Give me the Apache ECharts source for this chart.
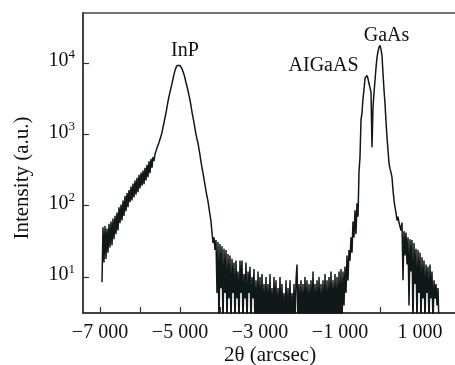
<!DOCTYPE html>
<html>
<head>
<meta charset="utf-8">
<script src="https://cdn.jsdelivr.net/npm/echarts@6/dist/echarts.min.js"></script>
<style>html,body{margin:0;padding:0;background:#fff;}#c{width:455px;height:365px;}</style>
</head>
<body>
<div id="c"></div>
<script>
// 2θ (arcsec) vs intensity (a.u.)
const inpShoulder = [[-6950,8.5],[-6925,50],[-6900,16],[-6875,52],[-6850,18],[-6825,48],[-6800,22],[-6775,56],[-6750,26],[-6725,60],[-6700,28],[-6675,66],[-6650,34],[-6625,72],[-6600,40],[-6575,80],[-6550,45],[-6525,95],[-6500,57],[-6475,104],[-6450,62],[-6425,118],[-6400,72],[-6375,136],[-6350,84],[-6325,150],[-6300,95],[-6275,165],[-6250,112],[-6225,185],[-6200,118],[-6175,205],[-6150,130],[-6125,225],[-6100,142],[-6075,245],[-6050,155],[-6025,270],[-6000,175],[-5975,290],[-5950,190],[-5925,310],[-5900,200],[-5875,340],[-5850,225],[-5825,375],[-5800,250],[-5775,420],[-5750,285],[-5725,455],[-5700,340],[-5675,480],[-5650,420],[-5625,530]];
const inpPeak = [[-5600,580],[-5575,650],[-5550,700],[-5525,770],[-5500,850],[-5475,950],[-5450,1060],[-5425,1250],[-5400,1450],[-5375,1720],[-5350,2000],[-5325,2400],[-5300,2900],[-5275,3400],[-5250,3900],[-5225,4500],[-5200,5150],[-5175,6000],[-5150,6900],[-5125,7850],[-5100,8600],[-5075,9200],[-5050,9530],[-5025,9450],[-5000,9200],[-4975,8800],[-4950,8300],[-4925,7800],[-4900,6900],[-4875,6100],[-4850,5300],[-4825,4700],[-4800,4100],[-4775,3500],[-4750,3000],[-4725,2500],[-4700,2050],[-4675,1720],[-4650,1450],[-4625,1200],[-4600,1000],[-4575,860],[-4550,750],[-4525,620],[-4500,510],[-4475,410],[-4450,340],[-4425,285],[-4400,235],[-4375,195],[-4350,160],[-4325,135],[-4300,115],[-4275,92],[-4250,75],[-4225,60]];
const substrateTail = [[-4200,42],[-4175,30],[-4150,36],[-4125,24],[-4100,33],[-4075,6],[-4050,31],[-4025,2],[-4000,29],[-3975,7],[-3950,27],[-3925,2],[-3900,25],[-3875,6],[-3850,24],[-3825,2],[-3800,21],[-3775,5],[-3750,20],[-3725,2],[-3700,18],[-3675,6],[-3650,16],[-3625,2],[-3600,17],[-3575,5],[-3550,12],[-3525,2],[-3500,17],[-3475,6],[-3450,17],[-3425,2],[-3400,11],[-3375,5],[-3350,16],[-3325,2],[-3300,12],[-3275,6],[-3250,14],[-3225,2],[-3200,10],[-3175,5],[-3150,13],[-3125,2],[-3100,9],[-3075,2],[-3050,12],[-3025,2],[-3000,10],[-2975,2],[-2950,11],[-2925,2],[-2900,8],[-2875,2],[-2850,10],[-2825,2],[-2800,8],[-2775,2],[-2750,11],[-2725,2],[-2700,7],[-2675,2],[-2650,10],[-2625,2],[-2600,9],[-2575,2],[-2550,7],[-2525,2],[-2500,10],[-2475,2],[-2450,8],[-2425,2],[-2400,6],[-2375,2],[-2350,9],[-2325,2],[-2300,7],[-2275,2],[-2250,9],[-2225,2],[-2200,6],[-2175,2],[-2150,8],[-2125,2],[-2100,9],[-2075,15],[-2050,2],[-2025,8],[-2000,2],[-1975,9],[-1950,2],[-1925,8],[-1900,2],[-1875,10],[-1850,2],[-1825,9],[-1800,2],[-1775,8],[-1750,2],[-1725,9],[-1700,2],[-1675,12],[-1650,2],[-1625,8],[-1600,2],[-1575,9],[-1550,2],[-1525,10],[-1500,2],[-1475,8],[-1450,2],[-1425,9],[-1400,2],[-1375,11],[-1350,2],[-1325,9],[-1300,2],[-1275,10],[-1250,2],[-1225,12],[-1200,2],[-1175,9],[-1150,2],[-1125,11],[-1100,2],[-1075,10],[-1050,2],[-1025,12],[-1000,2],[-975,13],[-950,2],[-925,12],[-900,4],[-875,14],[-850,6],[-825,20],[-800,9],[-775,24],[-750,17],[-725,36],[-700,22],[-675,60],[-650,36],[-625,86],[-600,40]];
const epiPeaks = [[-575,108],[-550,70],[-525,300],[-500,480],[-475,1590],[-450,2000],[-425,3190],[-400,4200],[-375,6100],[-350,6500],[-325,6680],[-300,6000],[-275,5140],[-250,4500],[-225,3860],[-200,658],[-175,2390],[-150,3800],[-125,5690],[-100,8500],[-75,11900],[-50,14500],[-25,16500],[0,17600],[25,15500],[50,12700],[75,7100],[100,4200],[125,2700],[150,1500],[175,908],[200,600],[225,393],[250,330],[275,290],[300,250],[325,165],[350,120],[375,95],[400,80],[425,62]];
const gaasTail = [[450,70],[475,58],[500,55],[525,45],[550,58],[575,9],[600,44],[625,20],[650,42],[675,15],[700,36],[725,4],[750,34],[775,12],[800,33],[825,2],[850,30],[875,8],[900,25],[925,2],[950,24],[975,6],[1000,22],[1025,2],[1050,19],[1075,5],[1100,17],[1125,2],[1150,15],[1175,6],[1200,14],[1225,2],[1250,15],[1275,5],[1300,12],[1325,2],[1350,9],[1375,5],[1400,8],[1425,4],[1450,7],[1475,2]];

const xLabelValues = [-7000, -5000, -3000, -1000, 1000];
const xTickValues = [-7000, -6000, -5000, -4000, -3000, -2000, -1000, 0, 1000];
const yTickValues = [10, 100, 1000, 10000];
const peakLabels = [['InP', -4875, 15000], ['GaAs', 163, 24300], ['AIGaAS', -1412, 9230]];

const FONT = 'Liberation Serif';
const scan = [].concat(inpShoulder, inpPeak, substrateTail, epiPeaks, gaasTail);

function fmtX(v) {
  const a = Math.abs(v);
  let s = a >= 1000 ? Math.floor(a / 1000) + ' ' + String(a % 1000).padStart(3, '0') : String(a);
  return (v < 0 ? '\u2212' : '') + s;
}

const chart = echarts.init(document.getElementById('c'), null, {renderer: 'canvas'});
chart.setOption({
  animation: false,
  backgroundColor: '#fff',
  grid: {left: 83, top: 13, right: -2, bottom: 52, show: true, borderColor: '#444', borderWidth: 1.5,
    containLabel: false, outerBoundsMode: 'none'},
  xAxis: {
    type: 'value', min: -7425, max: 1925,
    name: '2\u03b8 (arcsec)', nameLocation: 'middle', nameGap: 32, nameMoveOverlap: false,
    nameTextStyle: {fontFamily: FONT, fontSize: 21, color: '#111'},
    axisLine: {show: true, onZero: false, lineStyle: {color: '#333', width: 1.5}},
    axisTick: {show: true, inside: true, length: 6, customValues: xTickValues, lineStyle: {color: '#333', width: 1.2}},
    axisLabel: {customValues: xLabelValues, formatter: fmtX, fontFamily: FONT, fontSize: 20, color: '#111', margin: 10},
    splitLine: {show: false}
  },
  yAxis: {
    type: 'log', logBase: 10, min: 3.14, max: 50000,
    name: 'Intensity (a.u.)', nameLocation: 'middle', nameGap: 50, nameRotate: 90, nameMoveOverlap: false,
    nameTextStyle: {fontFamily: FONT, fontSize: 21, color: '#111', padding: [0, 30, 0, 0]},
    axisLine: {show: true, onZero: false, lineStyle: {color: '#333', width: 1.5}},
    axisTick: {show: true, inside: true, length: 6, customValues: yTickValues, lineStyle: {color: '#333', width: 1.2}},
    axisLabel: {
      customValues: yTickValues, margin: 8, color: '#111',
      formatter: function (v) { return '{b|10}{s|' + Math.round(Math.log10(v)) + '}'; },
      rich: {
        b: {fontFamily: FONT, fontSize: 20, color: '#111', padding: [0, 0, 4, 0]},
        s: {fontFamily: FONT, fontSize: 13, color: '#111', padding: [0, 0, 16, 0]}
      }
    },
    splitLine: {show: false}
  },
  series: [{
    type: 'line', data: scan, symbol: 'none', clip: true,
    lineStyle: {color: '#111818', width: 1.5},
    markPoint: {
      symbol: 'circle', symbolSize: 0,
      label: {show: true, position: 'inside', fontFamily: FONT, fontSize: 20, color: '#111',
        formatter: function (p) { return p.name; }},
      data: peakLabels.map(function (d) { return {name: d[0], coord: [d[1], d[2]]}; })
    }
  }]
});
</script>
</body>
</html>
